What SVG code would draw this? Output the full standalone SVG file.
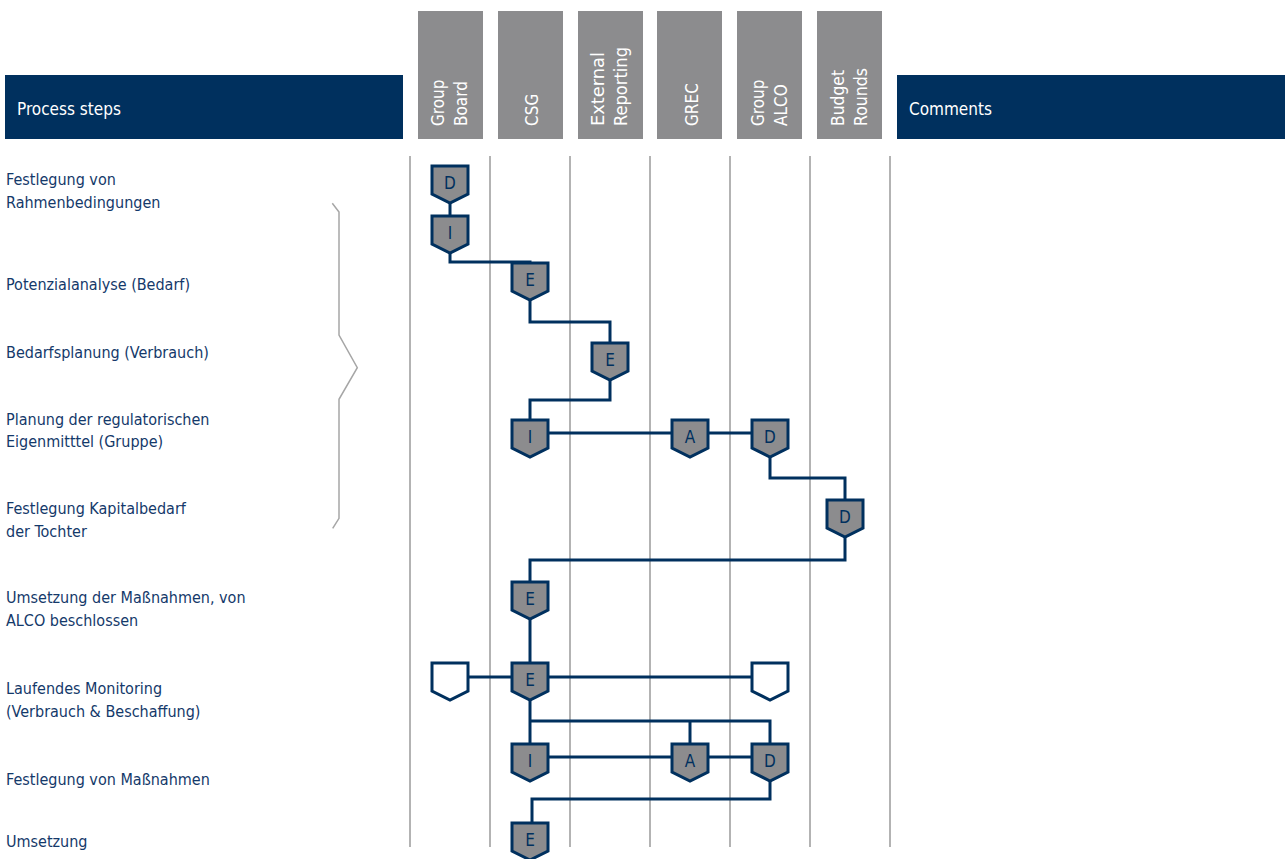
<svg xmlns="http://www.w3.org/2000/svg" width="1285" height="859" viewBox="0 0 1285 859">
<style>
.lbl{font-family:"DejaVu Sans Condensed","DejaVu Sans",sans-serif;font-stretch:condensed;font-size:16px;fill:#14396a}
.hdr{font-family:"DejaVu Sans Condensed","DejaVu Sans",sans-serif;font-stretch:condensed;font-size:17px;fill:#ffffff}
.bar{fill:#00305e}
.col{fill:#8c8c8e}
.grid{stroke:#b3b3b3;stroke-width:2;fill:none}
.conn{stroke:#00305e;stroke-width:3;fill:none}
.node{stroke:#00305e;stroke-width:3;fill:#8c8c8e;stroke-linejoin:miter}
.empty{stroke:#00305e;stroke-width:3;fill:#ffffff}
.ltr{font-family:"Liberation Sans Narrow","DejaVu Sans Condensed","DejaVu Sans",sans-serif;font-stretch:condensed;font-size:17px;fill:#00305e;text-anchor:middle}
.brace{stroke:#a6a6a6;stroke-width:1.5;fill:none}
</style>
<defs>
<path id="shield" d="M-18,0 H18 V28 L0,37 L-18,28 Z"/>
</defs>
<rect width="1285" height="859" fill="#ffffff"/>

<g id="header">
<rect class="bar" x="5" y="75" width="398" height="64"/>
<text class="hdr" x="17" y="115">Process steps</text>
<rect class="bar" x="897" y="75" width="388" height="64"/>
<text class="hdr" x="909" y="115">Comments</text>
</g>

<g id="col-groupboard">
<rect class="col" x="418" y="11" width="65" height="128"/>
<text class="hdr" transform="translate(444,126) rotate(-90)">Group</text>
<text class="hdr" transform="translate(467,126) rotate(-90)">Board</text>
</g>
<g id="col-csg">
<rect class="col" x="498" y="11" width="65" height="128"/>
<text class="hdr" transform="translate(538,126) rotate(-90)">CSG</text>
</g>
<g id="col-extrep">
<rect class="col" x="578" y="11" width="65" height="128"/>
<text class="hdr" transform="translate(604,126) rotate(-90)" textLength="74" lengthAdjust="spacingAndGlyphs">External</text>
<text class="hdr" transform="translate(627,126) rotate(-90)" textLength="79" lengthAdjust="spacingAndGlyphs">Reporting</text>
</g>
<g id="col-grec">
<rect class="col" x="657" y="11" width="65" height="128"/>
<text class="hdr" transform="translate(698,126) rotate(-90)">GREC</text>
</g>
<g id="col-alco">
<rect class="col" x="737" y="11" width="65" height="128"/>
<text class="hdr" transform="translate(764,126) rotate(-90)">Group</text>
<text class="hdr" transform="translate(787,126) rotate(-90)">ALCO</text>
</g>
<g id="col-budget">
<rect class="col" x="817" y="11" width="65" height="128"/>
<text class="hdr" transform="translate(844,126) rotate(-90)" textLength="56" lengthAdjust="spacingAndGlyphs">Budget</text>
<text class="hdr" transform="translate(867,126) rotate(-90)" textLength="58" lengthAdjust="spacingAndGlyphs">Rounds</text>
</g>

<g id="grid">
<line class="grid" x1="410" y1="156" x2="410" y2="847"/>
<line class="grid" x1="490" y1="156" x2="490" y2="847"/>
<line class="grid" x1="570" y1="156" x2="570" y2="847"/>
<line class="grid" x1="650" y1="156" x2="650" y2="847"/>
<line class="grid" x1="730" y1="156" x2="730" y2="847"/>
<line class="grid" x1="810" y1="156" x2="810" y2="847"/>
<line class="grid" x1="890" y1="156" x2="890" y2="847"/>
</g>

<g id="labels">
<text class="lbl" x="6" y="185">Festlegung von</text>
<text class="lbl" x="6" y="208">Rahmenbedingungen</text>
<text class="lbl" x="6" y="290">Potenzialanalyse (Bedarf)</text>
<text class="lbl" x="6" y="358">Bedarfsplanung (Verbrauch)</text>
<text class="lbl" x="6" y="425">Planung der regulatorischen</text>
<text class="lbl" x="6" y="447">Eigenmitttel (Gruppe)</text>
<text class="lbl" x="6" y="514">Festlegung Kapitalbedarf</text>
<text class="lbl" x="6" y="537">der Tochter</text>
<text class="lbl" x="6" y="603">Umsetzung der Maßnahmen, von</text>
<text class="lbl" x="6" y="626">ALCO beschlossen</text>
<text class="lbl" x="6" y="694">Laufendes Monitoring</text>
<text class="lbl" x="6" y="717">(Verbrauch &amp; Beschaffung)</text>
<text class="lbl" x="6" y="785">Festlegung von Maßnahmen</text>
<text class="lbl" x="6" y="847">Umsetzung</text>
</g>

<g id="brace">
<polyline class="brace" points="332.3,203.3 339,212 339,335 357.3,367.7 339,399.3 339,518.3 332.7,528.3"/>
</g>

<g id="connectors">
<polyline class="conn" points="450,203 450,216"/>
<polyline class="conn" points="450,253 450,262 530,262 530,264"/>
<polyline class="conn" points="530,299 530,322 610,322 610,344"/>
<polyline class="conn" points="610,379 610,400 530,400 530,421"/>
<polyline class="conn" points="530,433 770,433"/>
<polyline class="conn" points="770,456 770,478 845,478 845,501"/>
<polyline class="conn" points="845,536 845,560 530,560 530,583"/>
<polyline class="conn" points="530,618 530,665"/>
<polyline class="conn" points="450,677 770,677"/>
<polyline class="conn" points="530,700 530,745"/>
<polyline class="conn" points="530,721 770,721 770,745"/>
<polyline class="conn" points="690,721 690,745"/>
<polyline class="conn" points="530,757 770,757"/>
<polyline class="conn" points="770,780 770,799 532,799 532,824"/>
</g>

<g id="n1"><use href="#shield" class="node" x="450" y="166"/><text class="ltr" x="450" y="189">D</text></g>
<g id="n2"><use href="#shield" class="node" x="450" y="216"/><text class="ltr" x="450" y="239">I</text></g>
<g id="n3"><use href="#shield" class="node" x="530" y="263"/><text class="ltr" x="530" y="286">E</text></g>
<g id="n4"><use href="#shield" class="node" x="610" y="343"/><text class="ltr" x="610" y="366">E</text></g>
<g id="n5"><use href="#shield" class="node" x="530" y="420"/><text class="ltr" x="530" y="443">I</text></g>
<g id="n6"><use href="#shield" class="node" x="690" y="420"/><text class="ltr" x="690" y="443">A</text></g>
<g id="n7"><use href="#shield" class="node" x="770" y="420"/><text class="ltr" x="770" y="443">D</text></g>
<g id="n8"><use href="#shield" class="node" x="845" y="500"/><text class="ltr" x="845" y="523">D</text></g>
<g id="n9"><use href="#shield" class="node" x="530" y="582"/><text class="ltr" x="530" y="605">E</text></g>
<g id="n10"><use href="#shield" class="empty" x="450" y="663"/></g>
<g id="n11"><use href="#shield" class="node" x="530" y="663"/><text class="ltr" x="530" y="686">E</text></g>
<g id="n12"><use href="#shield" class="empty" x="770" y="663"/></g>
<g id="n13"><use href="#shield" class="node" x="530" y="744"/><text class="ltr" x="530" y="767">I</text></g>
<g id="n14"><use href="#shield" class="node" x="690" y="744"/><text class="ltr" x="690" y="767">A</text></g>
<g id="n15"><use href="#shield" class="node" x="770" y="744"/><text class="ltr" x="770" y="767">D</text></g>
<g id="n16"><use href="#shield" class="node" x="530" y="823"/><text class="ltr" x="530" y="846">E</text></g>
</svg>
